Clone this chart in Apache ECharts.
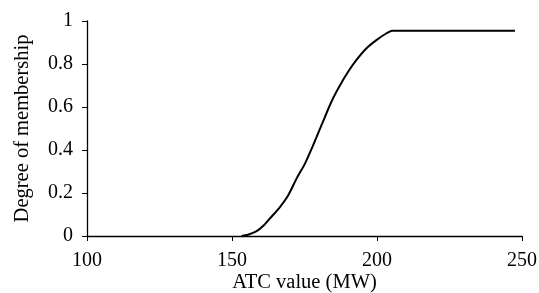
<!DOCTYPE html>
<html>
<head>
<meta charset="utf-8">
<script src="https://cdn.jsdelivr.net/npm/echarts@6/dist/echarts.min.js"></script>
<style>
  html, body { margin: 0; padding: 0; background: #fff; }
  #chart { width: 539px; height: 293px; }
</style>
</head>
<body>
<div id="chart"></div>
<script>
// ATC value (MW) and degree of membership
const atcValues = [153.3, 155.5, 158.5, 161, 163.1, 166.6, 169.4, 172.3, 175.2, 178.0, 181.0, 184.4, 187.2, 190.1, 193.0, 196.4, 199.9, 203.3, 205.4, 247.6]
const membership = [0, 0.006, 0.023, 0.05, 0.082, 0.136, 0.19, 0.268, 0.338, 0.423, 0.52, 0.628, 0.70, 0.765, 0.82, 0.873, 0.912, 0.943, 0.955, 0.955]
const xTicks = [100, 150, 200, 250]
const yTicks = [0, 0.2, 0.4, 0.6, 0.8, 1]

const font = 'Liberation Serif'
const chart = echarts.init(document.getElementById('chart'))

chart.setOption({
  animation: false,
  grid: { left: 87, right: 17, top: 21, bottom: 57, containLabel: false, outerBoundsMode: 'none' },
  xAxis: {
    type: 'value',
    min: xTicks[0],
    max: xTicks[xTicks.length - 1],
    interval: 50,
    name: 'ATC value (MW)',
    nameLocation: 'middle',
    nameGap: 36,
    nameMoveOverlap: false,
    nameTextStyle: { fontFamily: font, fontSize: 20.5, color: '#000' },
    axisLine: { lineStyle: { color: '#000', width: 1.3 } },
    axisTick: { show: true, length: 5, lineStyle: { color: '#000' } },
    axisLabel: { fontFamily: font, fontSize: 20, color: '#000', margin: 15 },
    splitLine: { show: false },
  },
  yAxis: {
    type: 'value',
    min: yTicks[0],
    max: yTicks[yTicks.length - 1],
    interval: 0.2,
    name: 'Degree of membership',
    nameLocation: 'middle',
    nameGap: 54,
    nameMoveOverlap: false,
    nameTextStyle: { fontFamily: font, fontSize: 20.5, color: '#000' },
    axisLine: { show: true, lineStyle: { color: '#000', width: 1.3 } },
    axisTick: { show: true, length: 5, lineStyle: { color: '#000' } },
    axisLabel: {
      fontFamily: font,
      fontSize: 20,
      color: '#000',
      margin: 14,
      formatter: (v) => String(Math.round(v * 10) / 10),
    },
    splitLine: { show: false },
  },
  series: [
    {
      type: 'line',
      data: atcValues.map((v, i) => [v, membership[i]]),
      showSymbol: false,
      smooth: 0.3,
      lineStyle: { color: '#000', width: 2 },
    },
  ],
})
</script>
</body>
</html>
